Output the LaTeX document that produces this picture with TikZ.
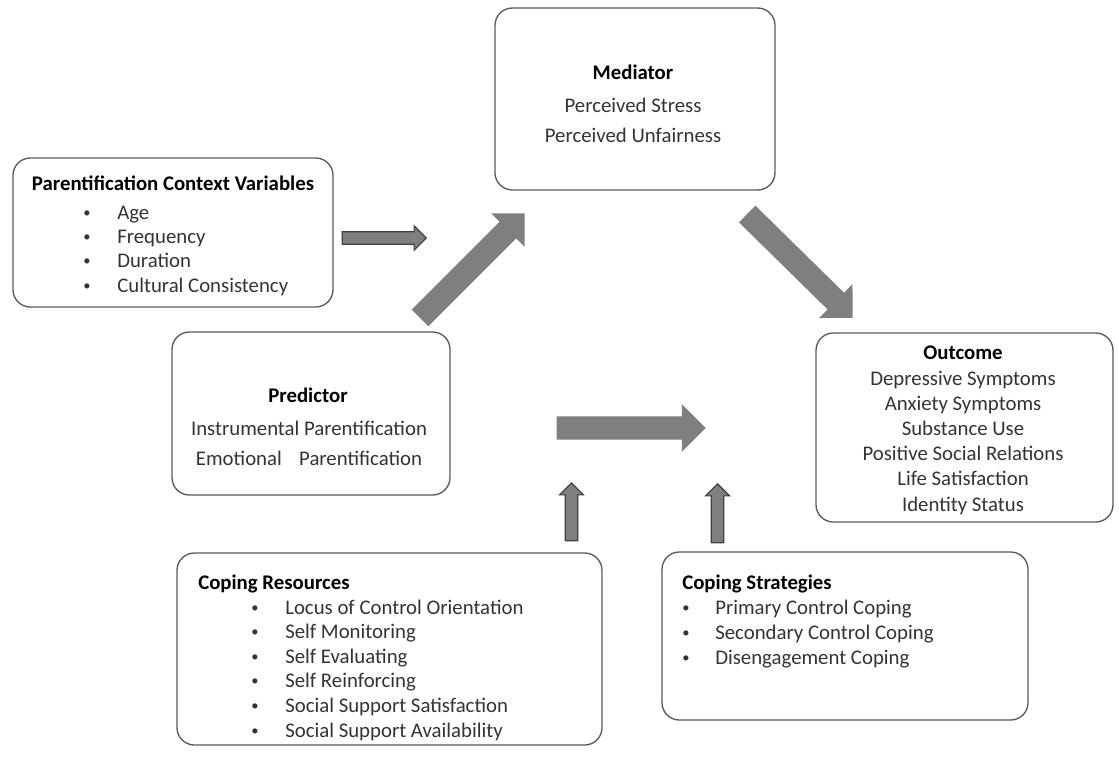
\documentclass[tikz,border=0pt]{standalone}
\usepackage{fontspec}
\setmainfont{Carlito}
\usetikzlibrary{shapes.arrows}
\definecolor{boxgray}{HTML}{5A5A5A}
\definecolor{txtgray}{HTML}{333333}
\definecolor{arrowgray}{HTML}{7F7F7F}
\definecolor{edgegray}{HTML}{404040}
\newcommand{\smallbullet}{\raisebox{1.4pt}{\scalebox{0.7}{\textbullet}}}
\tikzset{
  box/.style={draw=boxgray, line width=1pt, rounded corners=13pt, inner sep=0pt},
  txt/.style={text=txtgray, font=\fontsize{15.6}{19}\selectfont, inner sep=0pt},
  ttl/.style={text=black, font=\fontsize{15.6}{19}\selectfont\bfseries, inner sep=0pt},
  bigarrow/.style={single arrow, fill=arrowgray, inner sep=0pt, inner ysep=8.6pt,
    single arrow head extend=9pt, minimum height=111pt},
  smallarrow/.style={single arrow, fill=arrowgray, draw=edgegray, line width=0.8pt,
    inner sep=0pt, inner ysep=4.3pt, single arrow head extend=4.4pt}
}
\begin{document}
\begin{tikzpicture}[x=0.75pt, y=-0.75pt]
\useasboundingbox (0,0) rectangle (1119,761);
\node[box, minimum width=240pt, minimum height=111.75pt] (context) at (173,232.5) {};
\node[box, minimum width=210pt, minimum height=136.5pt] (mediator) at (635,99) {};
\node[box, minimum width=208.5pt, minimum height=122.25pt] (predictor) at (311,413.5) {};
\node[box, minimum width=222.75pt, minimum height=141.75pt] (outcome) at (964.5,427.5) {};
\node[box, minimum width=318.75pt, minimum height=144pt] (resources) at (389.5,649) {};
\node[box, minimum width=274.5pt, minimum height=126pt] (strategies) at (845,636) {};

\node[ttl, anchor=base] (ctxtitle) at (173,190) {Parentification Context Variables};
\foreach \t [count=\i] in {Age, Frequency, Duration, Cultural Consistency}
    {
    \node[txt, anchor=base] (ctxb\i) at (87, {219+24.4*(\i-1)}) {\smallbullet};
    \node[txt, anchor=base west] (ctx\i) at (117, {219+24.4*(\i-1)}) {\t};
    }

\node[ttl, anchor=base] (medtitle) at (633,79) {Mediator};
\node[txt, anchor=base] (med1) at (633,112) {Perceived Stress};
\node[txt, anchor=base] (med2) at (633,142) {Perceived Unfairness};

\node[ttl, anchor=base] (predtitle) at (308,402) {Predictor};
\node[txt, anchor=base] (pred1) at (309,435) {Instrumental Parentification};
\node[txt, anchor=base] (pred2) at (309,465) {Emotional\hspace{13pt}Parentification};

\node[ttl, anchor=base] (outtitle) at (963,359) {Outcome};
\foreach \t [count=\i] in {Depressive Symptoms, Anxiety Symptoms, Substance Use,
    Positive Social Relations, Life Satisfaction, Identity Status}
    \node[txt, anchor=base] (out\i) at (963, {385+25.2*(\i-1)}) {\t};

\node[ttl, anchor=base west] (restitle) at (198,589) {Coping Resources};
\foreach \t [count=\i] in {Locus of Control Orientation, Self Monitoring, Self Evaluating,
    Self Reinforcing, Social Support Satisfaction, Social Support Availability}
    {
    \node[txt, anchor=base] (resb\i) at (255, {614+24.6*(\i-1)}) {\smallbullet};
    \node[txt, anchor=base west] (res\i) at (285, {614+24.6*(\i-1)}) {\t};
    }

\node[ttl, anchor=base west] (strtitle) at (682,589) {Coping Strategies};
\foreach \t [count=\i] in {Primary Control Coping, Secondary Control Coping,
    Disengagement Coping}
    {
    \node[txt, anchor=base] (strb\i) at (686, {614+25*(\i-1)}) {\smallbullet};
    \node[txt, anchor=base west] (str\i) at (715, {614+25*(\i-1)}) {\t};
    }

\node[smallarrow, minimum height=63pt, minimum width=18pt, anchor=tip] (ctxarrow) at (427,238) {};
\node[bigarrow, minimum width=35.25pt, rotate=45, anchor=tip] (medarrow) at (525,213) {};
\node[bigarrow, minimum width=35.25pt, rotate=-44.5, anchor=tip] (outarrow) at (853,318) {};
\node[bigarrow, minimum width=35.25pt, minimum height=111.75pt, anchor=tip] (predarrow) at (706,428) {};
\node[smallarrow, minimum height=43.5pt, minimum width=16.5pt, rotate=90, anchor=tip] (resarrow) at (571.5,482) {};
\node[smallarrow, minimum height=44.25pt, minimum width=16.5pt, rotate=90, anchor=tip] (strarrow) at (717.5,483) {};
\end{tikzpicture}
\end{document}
